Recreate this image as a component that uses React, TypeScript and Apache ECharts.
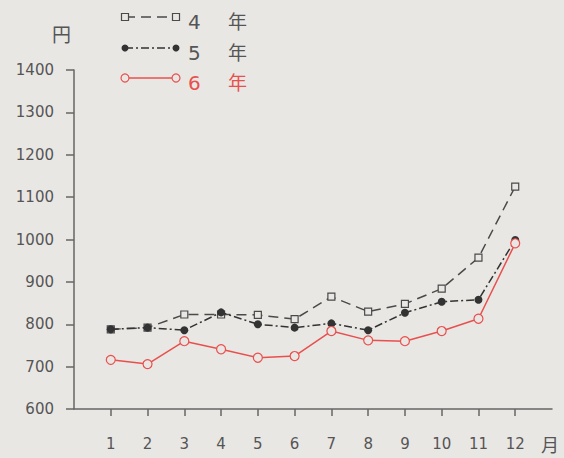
import React, { useEffect, useRef } from "react";
import * as echarts from "echarts";

const months = ["1", "2", "3", "4", "5", "6", "7", "8", "9", "10", "11", "12"];
const seriesNames = ["4年", "5年", "6年"];
const year4 = [788, 792, 823, 823, 822, 812, 865, 830, 848, 884, 957, 1125];
const year5 = [788, 792, 786, 828, 800, 792, 802, 786, 827, 853, 858, 999];
const year6 = [716, 706, 760, 741, 721, 725, 784, 762, 760, 784, 813, 991];
const yTicks = [600, 700, 800, 900, 1000, 1100, 1200, 1300, 1400];

const FONT = "'DejaVu Sans', 'Noto Sans CJK JP', sans-serif";
const GRAY = "#4a4a4a";
const TEXT = "#555555";
const RED = "#e8504e";
const BG = "#e9e7e4";

export default function App() {
  const ref = useRef<HTMLDivElement>(null);
  useEffect(() => {
    if (!ref.current) return;
    const chart = echarts.init(ref.current, undefined, { renderer: "svg" });
    const cats = ["", ...months, " "];
    const toData = (arr: number[]) => arr.map((v, i) => [i + 1, v]);
    const legendRows = [
      { y: 17, label: "4", color: GRAY, kind: "square", dash: [10, 6] },
      { y: 48, label: "5", color: "#333333", kind: "dot", dash: [8, 3, 2, 3] },
      { y: 78, label: "6", color: RED, kind: "ring", dash: null },
    ];
    const graphics: any[] = [];
    legendRows.forEach((r) => {
      graphics.push({
        type: "line",
        shape: { x1: 125, y1: r.y, x2: 176, y2: r.y },
        style: { stroke: r.color, lineWidth: 1.5, lineDash: r.dash || undefined },
      });
      [125, 176].forEach((x) => {
        if (r.kind === "square") {
          graphics.push({
            type: "rect",
            shape: { x: x - 3.5, y: r.y - 3.5, width: 7, height: 7 },
            style: { fill: BG, stroke: r.color, lineWidth: 1.2 },
          });
        } else if (r.kind === "dot") {
          graphics.push({
            type: "circle",
            shape: { cx: x, cy: r.y, r: 3.5 },
            style: { fill: r.color },
          });
        } else {
          graphics.push({
            type: "circle",
            shape: { cx: x, cy: r.y, r: 4 },
            style: { fill: BG, stroke: r.color, lineWidth: 1.2 },
          });
        }
      });
      graphics.push({
        type: "text",
        x: 188,
        y: r.y + 5,
        style: { text: r.label, fill: r.color === RED ? RED : TEXT, font: `20px ${FONT}`, textVerticalAlign: "middle" },
      });
      graphics.push({
        type: "text",
        x: 228,
        y: r.y + 5,
        style: { text: "年", fill: r.color === RED ? RED : TEXT, font: `19px ${FONT}`, textVerticalAlign: "middle" },
      });
    });
    graphics.push({
      type: "text",
      x: 52,
      y: 35,
      style: { text: "円", fill: TEXT, font: `19px ${FONT}`, textVerticalAlign: "middle" },
    });
    graphics.push({
      type: "text",
      x: 541,
      y: 445,
      style: { text: "月", fill: TEXT, font: `18px ${FONT}`, textVerticalAlign: "middle" },
    });

    chart.setOption({
      animation: false,
      backgroundColor: BG,
      grid: { left: 74, right: 12, top: 70, bottom: 49, containLabel: false },
      xAxis: {
        type: "category",
        data: cats,
        boundaryGap: false,
        axisLine: { lineStyle: { color: "#666", width: 1.5 } },
        axisTick: {
          inside: false,
          length: 7,
          lineStyle: { color: "#666", width: 1.5 },
          interval: (index: number) => index >= 1 && index <= 12,
        },
        axisLabel: { interval: 0, margin: 27, color: TEXT, fontSize: 15, fontFamily: FONT },
        splitLine: { show: false },
      },
      yAxis: {
        type: "value",
        min: yTicks[0],
        max: yTicks[yTicks.length - 1],
        interval: 100,
        axisLine: { show: true, lineStyle: { color: "#666", width: 1.5 } },
        axisTick: { show: true, length: 8, lineStyle: { color: "#666", width: 1.5 } },
        axisLabel: { margin: 20, color: TEXT, fontSize: 15, fontFamily: FONT, formatter: (v: number) => String(v) },
        splitLine: { show: false },
      },
      graphic: graphics,
      series: [
        {
          name: seriesNames[0],
          type: "line",
          data: toData(year4),
          symbol: "rect",
          symbolSize: 7,
          itemStyle: { color: BG, borderColor: GRAY, borderWidth: 1.2 },
          lineStyle: { color: GRAY, width: 1.5, type: [10, 6] },
          z: 2,
        },
        {
          name: seriesNames[1],
          type: "line",
          data: toData(year5),
          symbol: "circle",
          symbolSize: 8,
          itemStyle: { color: "#333333", borderWidth: 0 },
          lineStyle: { color: "#333333", width: 1.5, type: [8, 3, 2, 3] },
          z: 3,
        },
        {
          name: seriesNames[2],
          type: "line",
          data: toData(year6),
          symbol: "circle",
          symbolSize: 9,
          itemStyle: { color: BG, borderColor: RED, borderWidth: 1.2 },
          lineStyle: { color: RED, width: 1.5 },
          z: 4,
        },
      ],
    });
    return () => chart.dispose();
  }, []);
  return (
    <div
      ref={ref}
      style={{ position: "fixed", left: 0, top: 0, width: 564, height: 458 }}
    />
  );
}
